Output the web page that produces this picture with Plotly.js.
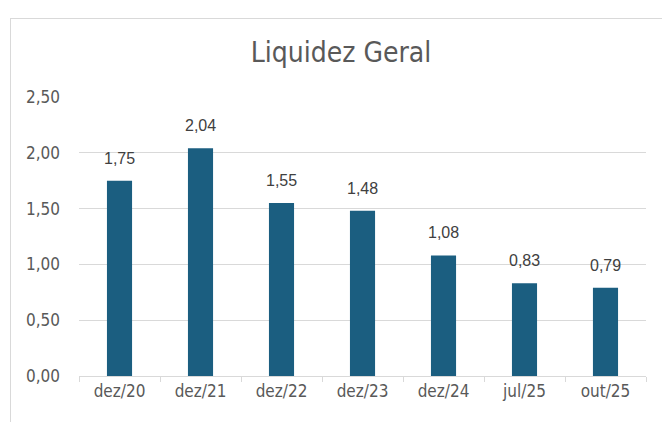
<!DOCTYPE html>
<html>
<head>
<meta charset="utf-8">
<script src="https://cdn.plot.ly/plotly-3.0.1.min.js"></script>
<style>
html,body{margin:0;padding:0;background:#fff;overflow:hidden;}
#wrap{position:relative;width:662px;height:422px;}
#chart{position:absolute;left:0;top:0;width:662px;height:422px;}
#frame{position:absolute;left:10px;top:18px;width:700px;height:450px;border:1px solid #d9d9d9;pointer-events:none;}
</style>
</head>
<body>
<div id="wrap">
<div id="chart"></div>
<div id="frame"></div>
</div>
<script>
const categories = ['dez/20','dez/21','dez/22','dez/23','dez/24','jul/25','out/25'];
const values = [1.75, 2.04, 1.55, 1.48, 1.08, 0.83, 0.79];
const yTicks = [0, 0.5, 1, 1.5, 2, 2.5];

const fmt = v => v.toFixed(2).replace('.', ',');

const trace = {
  type: 'bar',
  x: categories,
  y: values,
  marker: {color: '#1b5e80'},
  width: 0.31,
  hoverinfo: 'skip'
};

const annotations = categories.map((c, i) => ({
  x: c, y: values[i], xref: 'x', yref: 'y',
  text: fmt(values[i]), showarrow: false,
  yanchor: 'bottom', yshift: 12,
  font: {family: 'Liberation Sans, Arial, sans-serif', size: 16, color: '#404040'}
}));

const layout = {
  width: 662, height: 422,
  margin: {l: 79, r: 16, t: 97, b: 46, pad: 0},
  paper_bgcolor: 'rgba(0,0,0,0)',
  plot_bgcolor: 'rgba(0,0,0,0)',
  separators: ',.',
  showlegend: false,
  title: {
    text: 'Liquidez Geral',
    x: 0.462, xanchor: 'center', xref: 'paper',
    y: 0.877, yanchor: 'middle',
    font: {family: '"Liberation Sans Narrow", "DejaVu Sans Condensed", sans-serif', size: 28, color: '#595959'}
  },
  xaxis: {
    type: 'category',
    showgrid: false,
    showline: true, linecolor: '#d9d9d9', linewidth: 1,
    ticks: 'outside', ticklen: 5, tickcolor: '#d9d9d9',
    tickson: 'boundaries',
    tickfont: {family: '"Liberation Sans Narrow", "DejaVu Sans Condensed", sans-serif', size: 17, color: '#595959'},
    fixedrange: true
  },
  yaxis: {
    range: [0, 2.5],
    tickvals: yTicks,
    ticktext: yTicks.map(fmt),
    showgrid: true, gridcolor: '#d9d9d9', gridwidth: 1,
    zeroline: false, showline: false,
    ticks: '', ticklabelstandoff: 18,
    tickfont: {family: '"Liberation Sans Narrow", "DejaVu Sans Condensed", sans-serif', size: 17, color: '#595959'},
    fixedrange: true
  },
  annotations: annotations
};

Plotly.newPlot('chart', [trace], layout, {displayModeBar: false, staticPlot: true});
</script>
</body>
</html>
